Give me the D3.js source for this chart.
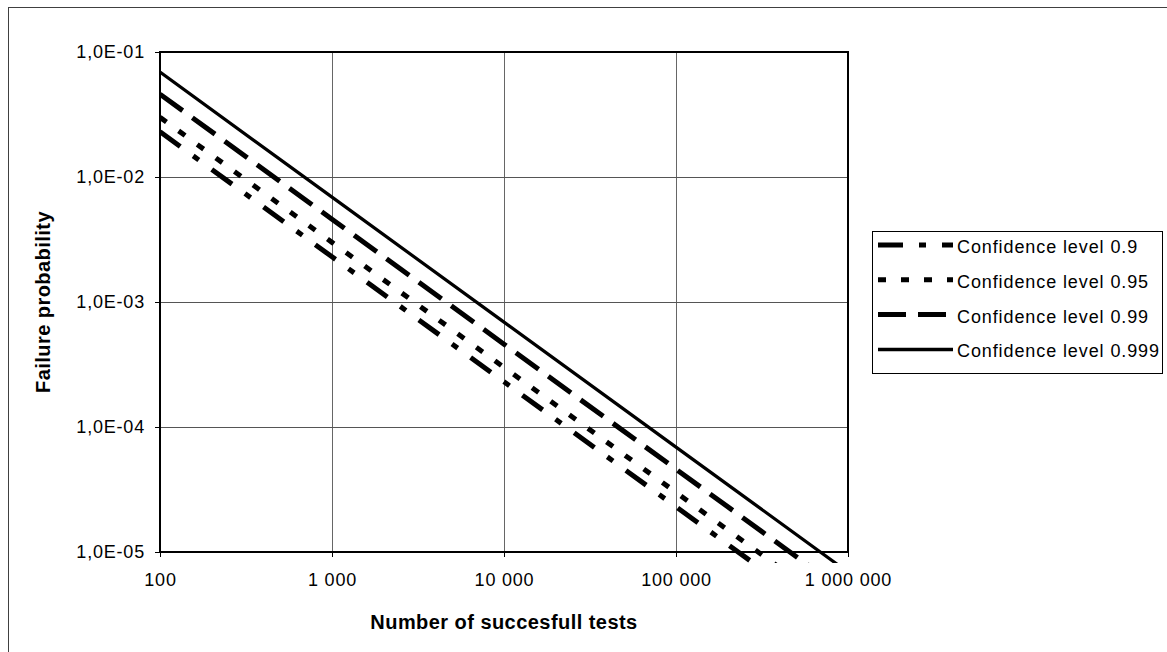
<!DOCTYPE html>
<html>
<head>
<meta charset="utf-8">
<script src="https://cdn.jsdelivr.net/npm/d3@7"></script>
<style>
    body { margin: 0; background: #fff; }
    svg { display: block; font-family: "Liberation Sans", Arial, sans-serif; }
</style>
</head>
<body>
<svg id="chart"></svg>
<script>
// number of successful tests (x) and failure probability per confidence level (y)
const tests = [100, 1000, 10000, 100000, 1000000];
const conf090 = [0.023, 0.0023, 0.00023, 0.000023, 0.0000023];
const conf095 = [0.030, 0.0030, 0.00030, 0.000030, 0.0000030];
const conf099 = [0.046, 0.0046, 0.00046, 0.000046, 0.0000046];
const conf0999 = [0.069, 0.0069, 0.00069, 0.000069, 0.0000069];

const seriesNames = ['Confidence level 0.9', 'Confidence level 0.95', 'Confidence level 0.99', 'Confidence level 0.999'];

const xTicks = [100, 1000, 10000, 100000, 1000000];
const xTickLabels = ['100', '1 000', '10 000', '100 000', '1 000 000'];
const yTicks = [1e-5, 1e-4, 1e-3, 1e-2, 1e-1];
const yTickLabels = ['1,0E-05', '1,0E-04', '1,0E-03', '1,0E-02', '1,0E-01'];

class FailureChart {
    constructor(_config) {
        this.config = {
            parentElement: _config.parentElement,
            containerWidth: _config.containerWidth || 1167,
            containerHeight: _config.containerHeight || 652,
            margin: _config.margin || {top: 52, right: 319, bottom: 100, left: 160}
        }
        this.initVis();
    }

    initVis() {
        let vis = this;

        vis.width = vis.config.containerWidth - vis.config.margin.left - vis.config.margin.right;
        vis.height = vis.config.containerHeight - vis.config.margin.top - vis.config.margin.bottom;

        vis.svg = d3.select(vis.config.parentElement)
            .attr('width', vis.config.containerWidth)
            .attr('height', vis.config.containerHeight);

        // outer frame (runs off the right/bottom edge like the original)
        vis.svg.append('rect')
            .attr('x', 8.5).attr('y', 7.5)
            .attr('width', 1200).attr('height', 700)
            .attr('fill', '#fff')
            .attr('stroke', '#404040')
            .attr('stroke-width', 1);

        vis.chart = vis.svg.append('g')
            .attr('transform', `translate(${vis.config.margin.left}, ${vis.config.margin.top})`);

        vis.x = d3.scaleLog().domain([100, 1000000]).range([0, vis.width]);
        vis.y = d3.scaleLog().domain([1e-5, 1e-1]).range([vis.height, 0]);

        vis.series = [
            {name: seriesNames[0], values: conf090, dash: '25 16 7 16', width: 5},
            {name: seriesNames[1], values: conf095, dash: '8 15', width: 5},
            {name: seriesNames[2], values: conf099, dash: '28 12', width: 5},
            {name: seriesNames[3], values: conf0999, dash: null, width: 3.2}
        ];

        vis.renderVis();
    }

    renderVis() {
        let vis = this;

        // gridlines
        vis.chart.append('g')
            .selectAll('line')
            .data(xTicks.slice(1, -1))
            .join('line')
            .attr('x1', d => Math.round(vis.x(d)) + 0.5)
            .attr('x2', d => Math.round(vis.x(d)) + 0.5)
            .attr('y1', 0).attr('y2', vis.height)
            .attr('stroke', '#666');
        vis.chart.append('g')
            .selectAll('line')
            .data(yTicks.slice(1, -1))
            .join('line')
            .attr('y1', d => Math.round(vis.y(d)) + 0.5)
            .attr('y2', d => Math.round(vis.y(d)) + 0.5)
            .attr('x1', 0).attr('x2', vis.width)
            .attr('stroke', '#555');

        // axes
        const xAxis = d3.axisBottom(vis.x)
            .tickValues(xTicks)
            .tickFormat((d, i) => xTickLabels[i])
            .tickSizeInner(5).tickSizeOuter(0)
            .tickPadding(16);
        const yAxis = d3.axisLeft(vis.y)
            .tickValues(yTicks)
            .tickFormat((d, i) => yTickLabels[i])
            .tickSizeInner(5).tickSizeOuter(0)
            .tickPadding(10);

        const gx = vis.chart.append('g')
            .attr('transform', `translate(0, ${vis.height})`)
            .call(xAxis);
        const gy = vis.chart.append('g').call(yAxis);

        [gx, gy].forEach(g => {
            g.select('.domain').remove();
            g.selectAll('line').attr('stroke', '#000');
            g.selectAll('text')
                .attr('font-family', '"Liberation Sans", Arial, sans-serif')
                .attr('font-size', 18)
                .style('letter-spacing', '0.8px')
                .attr('fill', '#000');
        });

        // lines, clipped a little below the plot floor like the original
        vis.svg.append('clipPath').attr('id', 'plot-clip')
            .append('rect')
            .attr('x', 0).attr('y', -10)
            .attr('width', vis.width).attr('height', vis.height + 21);

        const line = d3.line()
            .x((d, i) => vis.x(tests[i]))
            .y(d => vis.y(d));

        vis.chart.append('g')
            .attr('clip-path', 'url(#plot-clip)')
            .selectAll('path')
            .data(vis.series)
            .join('path')
            .attr('d', d => line(d.values))
            .attr('fill', 'none')
            .attr('stroke', '#000')
            .attr('stroke-width', d => d.width)
            .attr('stroke-dasharray', d => d.dash);

        // plot border
        vis.chart.append('rect')
            .attr('x', 0).attr('y', 0)
            .attr('width', vis.width).attr('height', vis.height)
            .attr('fill', 'none')
            .attr('stroke', '#000')
            .attr('stroke-width', 2);

        // axis titles
        vis.svg.append('text')
            .attr('x', vis.config.margin.left + vis.width / 2)
            .attr('y', 629)
            .attr('text-anchor', 'middle')
            .attr('font-size', 20)
            .attr('font-weight', 'bold')
            .style('letter-spacing', '0.45px')
            .text('Number of succesfull tests');

        vis.svg.append('text')
            .attr('transform', `translate(50, ${vis.config.margin.top + vis.height / 2}) rotate(-90)`)
            .attr('text-anchor', 'middle')
            .attr('font-size', 20)
            .attr('font-weight', 'bold')
            .style('letter-spacing', '0.45px')
            .text('Failure probability');

        // legend
        const legend = vis.svg.append('g');
        legend.append('rect')
            .attr('x', 872.5).attr('y', 231.5)
            .attr('width', 290).attr('height', 142)
            .attr('fill', '#fff')
            .attr('stroke', '#000')
            .attr('stroke-width', 1);

        const rows = legend.selectAll('g.row')
            .data(vis.series)
            .join('g')
            .attr('class', 'row')
            .attr('transform', (d, i) => `translate(0, ${245 + i * 34.8})`);

        rows.append('line')
            .attr('x1', 878).attr('x2', 953)
            .attr('y1', 0).attr('y2', 0)
            .attr('stroke', '#000')
            .attr('stroke-width', d => d.dash ? 5 : 3.5)
            .attr('stroke-dasharray', d => d.dash);

        rows.append('text')
            .attr('x', 957)
            .attr('y', 8)
            .attr('font-size', 18)
            .style('letter-spacing', '0.9px')
            .text(d => d.name);
    }
}

let chart = new FailureChart({parentElement: '#chart'});
</script>
</body>
</html>
